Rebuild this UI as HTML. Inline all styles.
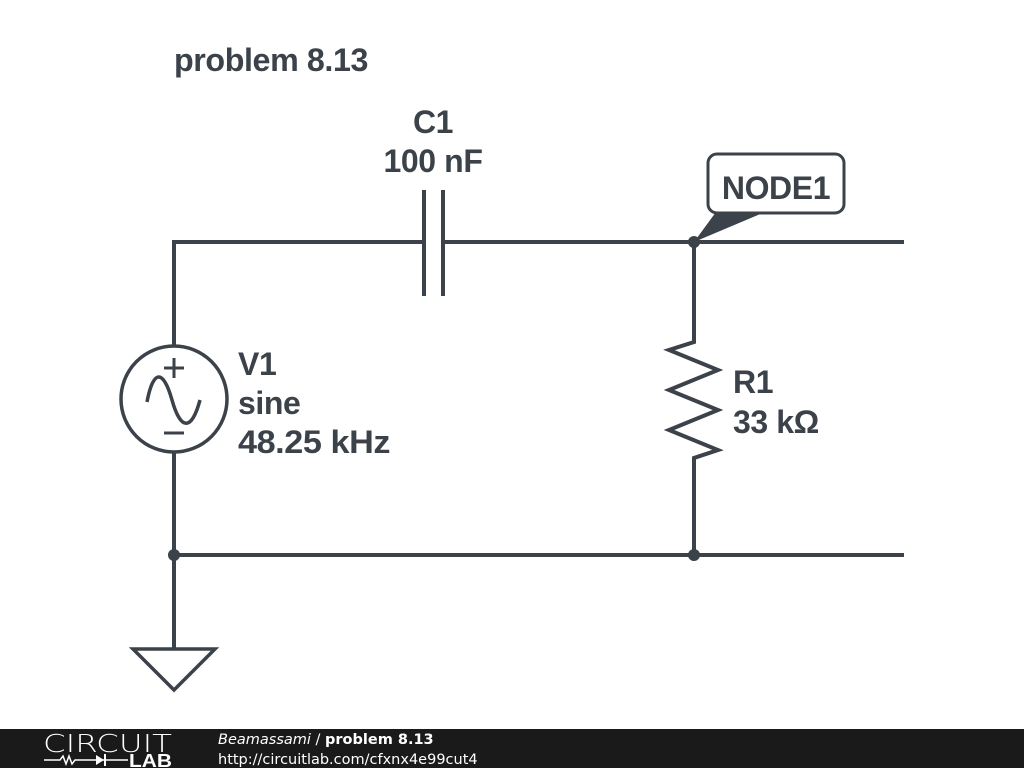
<!DOCTYPE html>
<html><head><style>
body{margin:0;width:1024px;height:768px;background:#fff;overflow:hidden;position:relative;font-family:"Liberation Sans",sans-serif}
svg{position:absolute;left:0;top:0}
.t{font-family:"Liberation Sans",sans-serif;font-weight:bold;fill:#3b4249;font-size:32px;letter-spacing:-0.4px}
</style></head><body>
<svg width="1024" height="768" viewBox="0 0 1024 768">
<g stroke="#3b4249" stroke-width="4" fill="none" stroke-linejoin="miter">
<polyline points="174,346 174,242 424,242"/>
<line x1="443" y1="242" x2="904" y2="242"/>
<line x1="424" y1="190" x2="424" y2="296"/>
<line x1="443" y1="190" x2="443" y2="296"/>
<line x1="174" y1="452" x2="174" y2="648"/>
<line x1="174" y1="555" x2="904" y2="555"/>
<polyline points="694,242 694,342 669,350 718,370 669,390 718,410 669,430 718,450 694,458 694,555"/>
<circle cx="174" cy="399" r="53" stroke-width="3.5"/>
<path d="M147,402 C153,370 163,368 172,400 C181,432 192,430 200,400" stroke-width="3.5"/>
<line x1="164" y1="368" x2="184" y2="368" stroke-width="3"/>
<line x1="174" y1="358" x2="174" y2="378" stroke-width="3"/>
<line x1="164" y1="433" x2="184" y2="433" stroke-width="3"/>
<polygon points="133,649 215,649 174,690" stroke-width="3.5"/>
<rect x="708" y="154" width="136" height="59" rx="9" stroke-width="3"/>
</g>
<polygon points="716,212 765,212 694,242" fill="#3b4249"/>
<circle cx="694" cy="242" r="6" fill="#3b4249"/>
<circle cx="694" cy="555" r="6" fill="#3b4249"/>
<circle cx="174" cy="555" r="6" fill="#3b4249"/>
<text class="t" x="174" y="71" textLength="194" lengthAdjust="spacingAndGlyphs">problem 8.13</text>
<text class="t" x="433" y="133" text-anchor="middle">C1</text>
<text class="t" x="433" y="172" text-anchor="middle">100 nF</text>
<text class="t" x="776" y="199" text-anchor="middle">NODE1</text>
<text class="t" x="238" y="375">V1</text>
<text class="t" x="238" y="414">sine</text>
<text class="t" x="238" y="453" textLength="152" lengthAdjust="spacingAndGlyphs">48.25 kHz</text>
<text class="t" x="733" y="393">R1</text>
<text class="t" x="733" y="433">33 kΩ</text>
<rect x="0" y="729" width="1024" height="39" fill="#1a1a1a"/>
<text x="43" y="752" font-size="25" fill="#fff" font-family="DejaVu Sans,sans-serif" font-weight="200" textLength="129" lengthAdjust="spacingAndGlyphs">CIRCUIT</text>
<g stroke="#fff" stroke-width="1.5" fill="none"><polyline points="44,760 60,760 63,756 66,764 69,756 72,764 75,760 82,760"/><line x1="82" y1="760" x2="128" y2="760"/></g>
<polygon points="96,755 96,765 104,760" fill="#fff"/><line x1="105" y1="754" x2="105" y2="766" stroke="#fff" stroke-width="2"/>
<text x="129" y="767" font-size="18" font-weight="bold" fill="#fff" font-family="Liberation Sans,sans-serif" textLength="43" lengthAdjust="spacingAndGlyphs">LAB</text>
<text x="218" y="744" font-size="14.5" fill="#fff" font-family="DejaVu Sans,sans-serif"><tspan font-style="italic">Beamassami</tspan> / <tspan font-weight="bold">problem 8.13</tspan></text>
<text x="218" y="764" font-size="14.5" fill="#fff" font-family="DejaVu Sans,sans-serif">http://circuitlab.com/cfxnx4e99cut4</text>
</svg>
</body></html>
